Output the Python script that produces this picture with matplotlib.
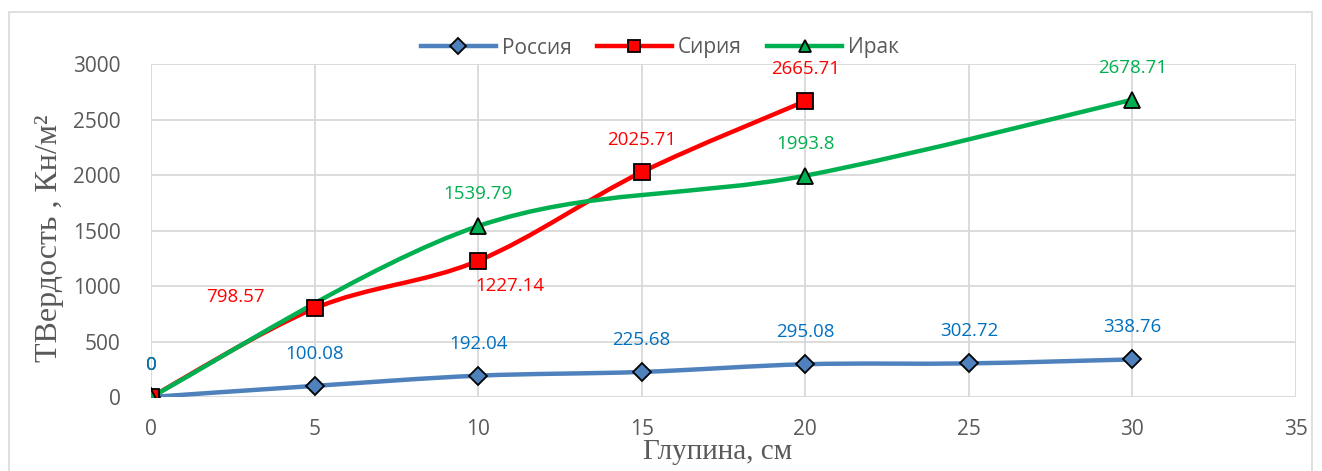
import numpy as np
import matplotlib.pyplot as plt
from matplotlib.path import Path
from matplotlib.patches import PathPatch, Rectangle
from matplotlib.lines import Line2D

# глубина, см
depth_russia = [0, 5, 10, 15, 20, 25, 30]
depth_syria = [0, 5, 10, 15, 20]
depth_iraq = [0, 10, 20, 30]

# твердость, Кн/м2
hard_russia = [0, 100.08, 192.04, 225.68, 295.08, 302.72, 338.76]
hard_syria = [0, 798.57, 1227.14, 2025.71, 2665.71]
hard_iraq = [0, 1539.79, 1993.8, 2678.71]

labels_russia = ['0', '100.08', '192.04', '225.68', '295.08', '302.72', '338.76']
labels_syria = ['0', '798.57', '1227.14', '2025.71', '2665.71']
labels_iraq = ['0', '1539.79', '1993.8', '2678.71']

# сдвиг подписей (в пунктах) для красной серии
offsets_syria = [(0, 23), (-57, 8), (23, -18), (0, 23), (0, 23)]

C_RUS, C_SYR, C_IRQ = '#4F81BD', '#FF0000', '#00B050'
L_RUS, L_SYR, L_IRQ = '#0070C0', '#FF0000', '#00B050'
GRAY = '#595959'
SANS = ['Open Sans', 'DejaVu Sans']
SERIF = ['Liberation Serif', 'DejaVu Serif']


def smooth_path(xs, ys):
    # сглаженная линия как в Excel: кубические Безье через все точки
    p = np.column_stack([xs, ys]).astype(float)
    n = len(p)
    verts = [p[0]]
    codes = [Path.MOVETO]
    for i in range(n - 1):
        p0 = p[i - 1] if i > 0 else p[i]
        p1, p2 = p[i], p[i + 1]
        p3 = p[i + 2] if i + 2 < n else p[i + 1]
        verts += [p1 + (p2 - p0) / 6, p2 - (p3 - p1) / 6, p2]
        codes += [Path.CURVE4] * 3
    return Path(verts, codes)


fig = plt.figure(figsize=(13.22, 4.71), dpi=100)
ax = fig.add_axes([151 / 1322, 1 - 397 / 471, (1296 - 151) / 1322, (397 - 64) / 471])

fig.patches.append(Rectangle((9 / 1322, -0.05), (1312 - 9) / 1322, 1 - 12 / 471 + 0.05,
                             transform=fig.transFigure, fill=False,
                             edgecolor='#D9D9D9', lw=1.2))

series = [
    (depth_russia, hard_russia, C_RUS, 'D', 9, 'Россия'),
    (depth_syria, hard_syria, C_SYR, 's', 11, 'Сирия'),
    (depth_iraq, hard_iraq, C_IRQ, '^', 11, 'Ирак'),
]
handles = []
for xs, ys, col, mk, ms, name in series:
    ax.add_patch(PathPatch(smooth_path(xs, ys), fill=False, edgecolor=col,
                           lw=3.2, capstyle='round', zorder=3))
    ax.plot(xs, ys, ls='none', marker=mk, ms=ms, mfc=col, mec='black',
            mew=1.3, zorder=4)
    handles.append(Line2D([], [], color=col, lw=3.2, marker=mk, ms=ms * 0.85,
                          mfc=col, mec='black', mew=1.3, label=name))

for x, y, t, off in zip(depth_syria, hard_syria, labels_syria, offsets_syria):
    ax.annotate(t, (x, y), xytext=off, textcoords='offset points', ha='center',
                va='center', color=L_SYR, fontsize=13.5, family=SANS, zorder=5)
for x, y, t in zip(depth_iraq, hard_iraq, labels_iraq):
    ax.annotate(t, (x, y), xytext=(0, 23), textcoords='offset points', ha='center',
                va='center', color=L_IRQ, fontsize=13.5, family=SANS, zorder=5)
for x, y, t in zip(depth_russia, hard_russia, labels_russia):
    ax.annotate(t, (x, y), xytext=(0, 23), textcoords='offset points', ha='center',
                va='center', color=L_RUS, fontsize=13.5, family=SANS, zorder=5)

ax.set_xlim(0, 35)
ax.set_ylim(0, 3000)
ax.set_xticks(range(0, 36, 5))
ax.set_yticks(range(0, 3001, 500))
ax.grid(True, color='#D9D9D9', lw=1.3)
ax.set_axisbelow(True)
for s in ax.spines.values():
    s.set_visible(False)
ax.tick_params(length=0, labelcolor=GRAY, labelsize=15)
ax.tick_params(axis='x', pad=16)
ax.tick_params(axis='y', pad=22)
for lab in ax.get_xticklabels() + ax.get_yticklabels():
    lab.set_family(SANS)

fig.text(50 / 1322, 1 - 238 / 471, 'ТВердость , Кн/м²', rotation=90, ha='center',
         va='center', fontsize=23, family=SERIF, color=GRAY)
fig.text(718 / 1322, 1 - 452 / 471, 'Глупина, см', ha='center', va='center',
         fontsize=21, family=SERIF, color=GRAY)

fig.legend(handles=handles, loc='center', bbox_to_anchor=(660 / 1322, 1 - 48 / 471),
           ncol=3, frameon=False, handlelength=3.6, columnspacing=1.2,
           handletextpad=0.3, prop={'family': SANS, 'size': 15}, labelcolor=GRAY)

fig.savefig('out.png', dpi=100)
